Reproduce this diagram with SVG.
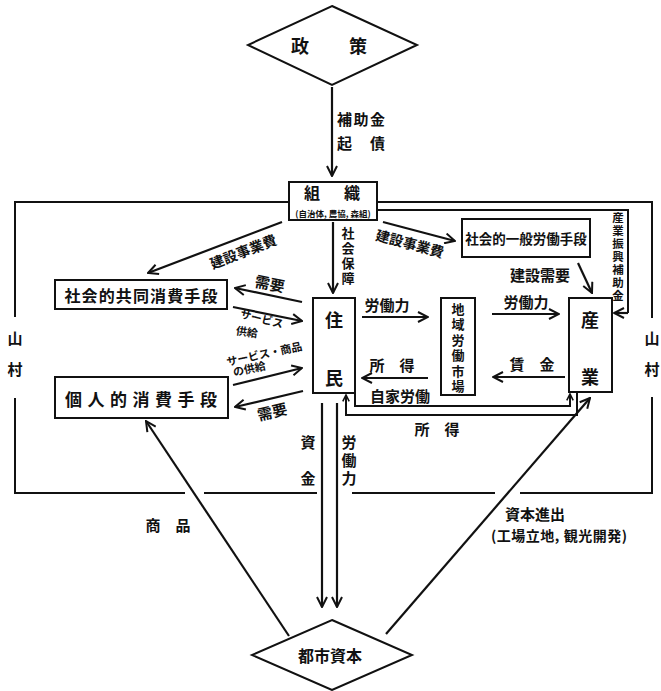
<svg xmlns="http://www.w3.org/2000/svg" width="661" height="691" viewBox="0 0 661 691">
<style>
text{font-family:"Noto Sans CJK JP","Noto Sans CJK SC",sans-serif;font-weight:700;fill:#111;text-anchor:middle;dominant-baseline:central;}
.v{writing-mode:vertical-rl;text-anchor:start;}
.box{fill:#fff;stroke:#111;stroke-width:2;}
.ln{fill:none;stroke:#111;stroke-width:2;}
.ar{fill:none;stroke:#111;stroke-width:2.2;marker-end:url(#ah);}
.as{fill:none;stroke:#111;stroke-width:2;marker-end:url(#ahs);}
.f15{font-size:15px;}
.f14{font-size:14px;}
.f13{font-size:13px;}
.f12{font-size:11.5px;}
.f11{font-size:11px;}
</style>
<defs>
<marker id="ah" viewBox="0 0 12 12" refX="11" refY="6" markerWidth="12" markerHeight="12" markerUnits="userSpaceOnUse" orient="auto"><path d="M1,1 L11,6 L1,11" fill="none" stroke="#111" stroke-width="2"/></marker>
<marker id="ahs" viewBox="0 0 10 10" refX="9" refY="5" markerWidth="8" markerHeight="8" markerUnits="userSpaceOnUse" orient="auto"><path d="M1,1 L9,5 L1,9" fill="none" stroke="#111" stroke-width="2"/></marker>
</defs>
<rect width="661" height="691" fill="#fff"/>

<g id="frame">
<path class="ln" d="M289,202 H15 V317 M15,398 V493 H185 M204,493 H317 M352,493 H495 M520,493 H652 V397 M652,318 V202 H377"/>
<text class="f15 v" x="15" y="330.5" style="letter-spacing:16px">山村</text>
<text class="f15 v" x="652" y="330.5" style="letter-spacing:16px">山村</text>
</g>

<g id="connectors">
<line class="ar" x1="332" y1="87" x2="332" y2="176"/>
<text class="f15" x="361" y="118" textLength="48" lengthAdjust="spacing">補助金</text>
<text class="f15" x="361" y="142" textLength="48" lengthAdjust="spacing">起　債</text>

<line class="ar" x1="333" y1="222" x2="333" y2="293"/>
<text class="f13 v" x="348" y="226.5" style="letter-spacing:2px">社会保障</text>

<line class="ar" x1="282" y1="222" x2="148" y2="273"/>
<text class="f14" transform="translate(243,251) rotate(-21)">建設事業費</text>

<line class="ar" x1="383" y1="222" x2="455" y2="241"/>
<text class="f14" transform="translate(410,243) rotate(15)">建設事業費</text>

<path class="ln" d="M377,210 H628 V313"/>
<line class="ar" x1="628" y1="313" x2="614" y2="313"/>
<text class="f12 v" x="618" y="212" style="letter-spacing:1.5px">産業振興補助金</text>

<line class="ar" x1="578" y1="263" x2="592" y2="293"/>
<text class="f15" x="540" y="274">建設需要</text>

<line class="ar" x1="302" y1="302" x2="235" y2="288"/>
<text class="f15" transform="translate(270,283) rotate(11)">需要</text>

<line class="ar" x1="233" y1="307" x2="302" y2="321"/>
<text class="f11" transform="translate(262,318) rotate(14)">サービス</text>
<text class="f11" transform="translate(247,331) rotate(8)">供給</text>

<line class="ar" x1="233" y1="385" x2="302" y2="368"/>
<text class="f11" transform="translate(264,353) rotate(-12)">サービス・商品</text>
<text class="f11" transform="translate(249,368) rotate(-12)">の供給</text>

<line class="ar" x1="303" y1="391" x2="235" y2="407"/>
<text class="f15" transform="translate(272,411) rotate(-13)">需要</text>

<line class="ar" x1="362" y1="317" x2="428" y2="317"/>
<text class="f15" x="387" y="304">労働力</text>
<line class="ar" x1="492" y1="314" x2="559" y2="314"/>
<text class="f15" x="526" y="301">労働力</text>
<line class="ar" x1="428" y1="378" x2="362" y2="378"/>
<text class="f15" x="392" y="364">所　得</text>
<line class="ar" x1="565" y1="377" x2="493" y2="377"/>
<text class="f15" x="532" y="363">賃　金</text>

<path class="as" d="M355,393 V406 H570 V394"/>
<text class="f15" x="400" y="395">自家労働</text>
<path class="as" d="M577,392 V415 H346 V395"/>
<text class="f15" x="437" y="428">所　得</text>

<line class="ar" x1="322" y1="403" x2="322" y2="607"/>
<line class="ar" x1="337" y1="403" x2="337" y2="607"/>
<text class="f15 v" x="308" y="434.5" style="letter-spacing:21px">資金</text>
<text class="f15 v" x="349" y="434.5" style="letter-spacing:3px">労働力</text>

<line class="ar" x1="289" y1="636" x2="146" y2="421"/>
<text class="f15" x="168" y="524">商　品</text>

<line class="ar" x1="386" y1="634" x2="590" y2="398"/>
<text class="f15" x="535" y="513">資本進出</text>
<text class="f14" x="559" y="535" textLength="136" lengthAdjust="spacing">(工場立地, 観光開発)</text>
</g>

<g id="seisaku">
<polygon class="box" points="332,6 417,45 332,85 248,45"/>
<text x="329" y="45" style="font-size:18px" textLength="76" lengthAdjust="spacing">政　策</text>
</g>

<g id="soshiki">
<rect class="box" x="289" y="182" width="88" height="38"/>
<text x="332" y="192" style="font-size:16px" textLength="56" lengthAdjust="spacing">組　織</text>
<text x="333" y="212.5" style="font-size:8.5px">(自治体, 農協, 森組)</text>
</g>

<g id="ippan">
<rect class="box" x="462" y="219" width="128" height="38"/>
<text x="526" y="238" style="font-size:13.5px">社会的一般労働手段</text>
</g>

<g id="kyodo">
<rect class="box" x="55" y="280" width="172" height="29"/>
<text x="141" y="295" style="font-size:16px" textLength="153" lengthAdjust="spacing">社会的共同消費手段</text>
</g>

<g id="kojin">
<rect class="box" x="55" y="377" width="173" height="41"/>
<text x="141" y="398" style="font-size:17px" textLength="152" lengthAdjust="spacing">個人的消費手段</text>
</g>

<g id="jumin">
<rect class="box" x="313" y="298" width="42" height="95"/>
<text class="v" x="334" y="311" style="font-size:18px;letter-spacing:40px">住民</text>
</g>

<g id="chiiki">
<rect class="box" x="441" y="298" width="34" height="97"/>
<text class="f13 v" x="458" y="302.5" style="letter-spacing:2.5px">地域労働市場</text>
</g>

<g id="sangyo">
<rect class="box" x="569" y="298" width="43" height="94"/>
<text class="v" x="590" y="311" style="font-size:18px;letter-spacing:39px">産業</text>
</g>

<g id="toshi">
<polygon class="box" points="332,620 412,655 332,690 252,655"/>
<text x="330" y="655" style="font-size:16px">都市資本</text>
</g>
</svg>
